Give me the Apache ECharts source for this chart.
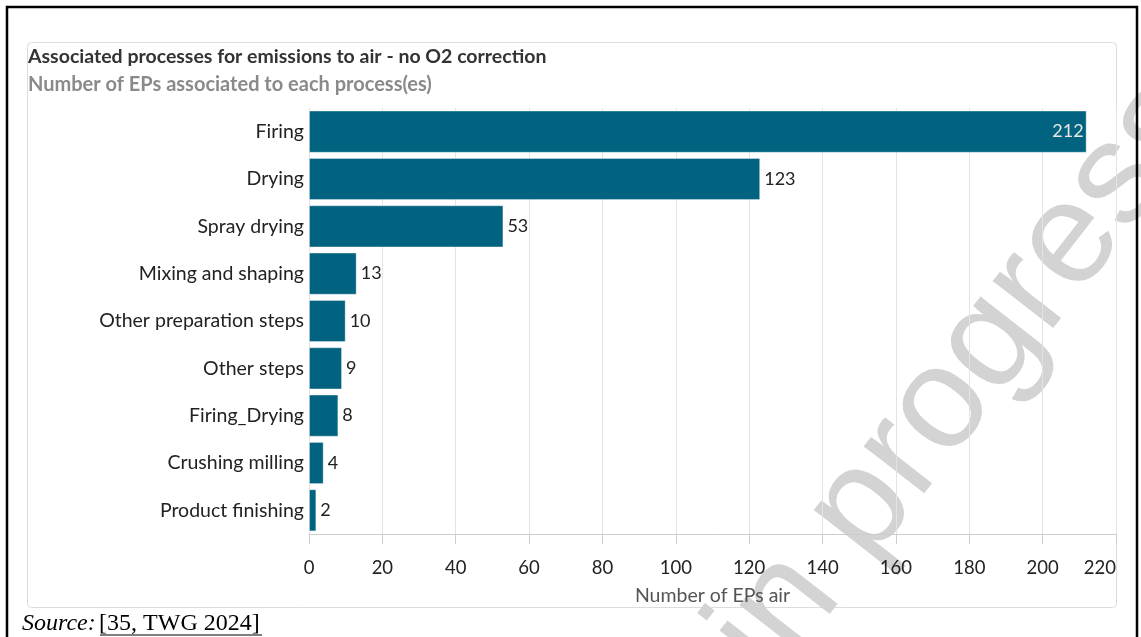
<!DOCTYPE html>
<html>
<head>
<meta charset="utf-8">
<script src="https://cdn.jsdelivr.net/npm/echarts@6/dist/echarts.min.js"></script>
<style>
  html, body { margin: 0; padding: 0; background: #fff; }
  #chart { width: 1141px; height: 637px; }
</style>
</head>
<body>
<div id="chart"></div>
<script>
var processes = ['Firing', 'Drying', 'Spray drying', 'Mixing and shaping', 'Other preparation steps',
    'Other steps', 'Firing_Drying', 'Crushing milling', 'Product finishing'];
var epCounts = [212, 123, 53, 13, 10, 9, 8, 4, 2];
var xTicks = [0, 20, 40, 60, 80, 100, 120, 140, 160, 180, 200, 220];

var titleText = 'Associated processes for emissions to air - no O2 correction';
var subText = 'Number of EPs associated to each process(es)';
var axisName = 'Number of EPs air';

var FONT = 'Lato, "Noto Sans", sans-serif';
var BAR = '#01637f';

var chart = echarts.init(document.getElementById('chart'));

var option = {
    backgroundColor: '#fff',
    animation: false,
    title: {
        text: titleText,
        subtext: subText,
        left: 23,
        top: 42,
        itemGap: 8,
        textStyle: { fontFamily: FONT, fontSize: 19.5, fontWeight: 'bold', color: '#333' },
        subtextStyle: { fontFamily: FONT, fontSize: 20, fontWeight: 'bold', color: '#8a8a8a' }
    },
    grid: { left: 309, right: 25, top: 108, bottom: 103 },
    xAxis: {
        type: 'value',
        min: xTicks[0],
        max: xTicks[xTicks.length - 1],
        interval: 20,
        name: axisName,
        nameLocation: 'middle',
        nameGap: 52,
        nameTextStyle: { fontFamily: FONT, fontSize: 19.5, color: '#555' },
        axisLine: { show: true, lineStyle: { color: '#ccc' } },
        axisTick: { show: true, length: 10, lineStyle: { color: '#ccc' } },
        axisLabel: { fontFamily: FONT, fontSize: 18.5, color: '#222', margin: 25, alignMaxLabel: 'right' },
        splitLine: { show: true, lineStyle: { color: '#e3e3e3' } }
    },
    yAxis: {
        type: 'category',
        data: processes,
        inverse: true,
        axisLine: { show: false },
        axisTick: { show: false },
        axisLabel: { fontFamily: FONT, fontSize: 19.5, color: '#222', margin: 5 }
    },
    series: [{
        type: 'bar',
        data: epCounts.map(function (v, i) {
            var item = { value: v };
            if (i === 0) {
                item.label = { position: 'insideRight', color: '#e6e6e6', distance: 3 };
            }
            return item;
        }),
        barCategoryGap: '11%',
        itemStyle: { color: BAR, borderColor: 'rgba(255,255,255,0.35)', borderWidth: 1 },
        label: { show: true, position: 'right', distance: 4, fontFamily: FONT, fontSize: 18, color: '#222' }
    }],
    graphic: [
        // watermark behind the plot
        {
            type: 'text', z: -10, x: 511, y: 957,
            rotation: 52 * Math.PI / 180,
            style: {
                text: 'Work in progress', font: '145px "Liberation Sans", Arial, sans-serif',
                fill: '#d3d3d3', align: 'left', verticalAlign: 'middle'
            }
        },
        {
            type: 'rect', z: -20, silent: true,
            shape: { x: 27.5, y: 42.5, width: 1089, height: 565, r: 4 },
            style: { fill: 'none', stroke: '#dcdcdc', lineWidth: 1 }
        },
        {
            type: 'rect', z: 100, silent: true,
            shape: { x: 7, y: 7, width: 1130, height: 660 },
            style: { fill: 'none', stroke: '#000', lineWidth: 2.5 }
        },
        {
            type: 'text', z: 100, x: 22, y: 624,
            style: {
                text: '{i|Source:} {n|[35, TWG 2024]}',
                verticalAlign: 'middle',
                rich: {
                    i: { fontFamily: '"Liberation Serif", serif', fontStyle: 'italic', fontSize: 24, fill: '#000' },
                    n: { fontFamily: '"Liberation Serif", serif', fontSize: 24, fill: '#000' }
                }
            }
        },
        {
            type: 'line', z: 100, silent: true,
            shape: { x1: 100, y1: 635, x2: 262, y2: 635 },
            style: { stroke: '#000', lineWidth: 1.2 }
        }
    ]
};

chart.setOption(option);
</script>
</body>
</html>
